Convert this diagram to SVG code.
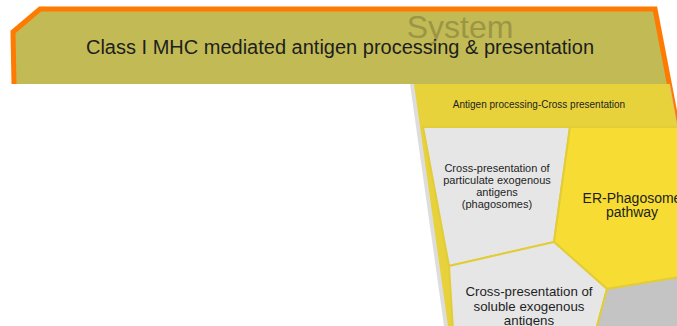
<svg xmlns="http://www.w3.org/2000/svg" width="677" height="326" viewBox="0 0 677 326">
<style>
.t{font-family:"Liberation Sans",Arial,sans-serif;fill:#1e1e1e;text-anchor:middle}
.cell{stroke:#e2cc38;stroke-width:2;stroke-linejoin:round}
</style>
<rect width="677" height="326" fill="#ffffff"/>
<g id="system">
<polygon points="14,32 40,9 655,9 669,84 14,84" fill="#c2bb55"/>
<path d="M14,84 L13,32 L40,9 L655,9 L682,150" fill="none" stroke="#ff7a00" stroke-width="5" stroke-linejoin="miter"/>
<text class="t" x="460" y="38" font-size="32" style="fill:#9b9545">System</text>
<text class="t" x="340" y="54" font-size="20">Class I MHC mediated antigen processing &amp; presentation</text>
</g>
<g id="cross-presentation">
<polygon points="410,84 670,84 680,140 680,326 444,326" fill="#cfcfcf" opacity="0.7"/>
<polygon points="414,84 669,84 680,140 680,326 448,326" fill="#e7d23b"/>
<text class="t" x="539" y="108" font-size="10">Antigen processing-Cross presentation</text>
</g>
<g id="particulate">
<polygon class="cell" points="423,127 570,127 554,242 449,266" fill="#e6e6e6"/>
<text class="t" x="497" y="172" font-size="11">Cross-presentation of</text>
<text class="t" x="497" y="184" font-size="11">particulate exogenous</text>
<text class="t" x="497" y="196" font-size="11">antigens</text>
<text class="t" x="497" y="208" font-size="11">(phagosomes)</text>
</g>
<g id="er-phagosome">
<polygon class="cell" points="570,127 680,127 680,277 607,289 554,242" fill="#f7dd33"/>
<text class="t" x="632" y="203" font-size="14">ER-Phagosome</text>
<text class="t" x="632" y="217" font-size="14">pathway</text>
</g>
<g id="soluble">
<polygon class="cell" points="449,266 554,242 607,289 596,330 453,330" fill="#e6e6e6"/>
<text class="t" x="529" y="296" font-size="13.3">Cross-presentation of</text>
<text class="t" x="529" y="311" font-size="13.3">soluble exogenous</text>
<text class="t" x="529" y="325" font-size="13.3">antigens</text>
</g>
<g id="other">
<polygon class="cell" points="607,289 680,277 680,330 596,330" fill="#c4c4c4"/>
</g>
<g id="connectors"/>
</svg>
